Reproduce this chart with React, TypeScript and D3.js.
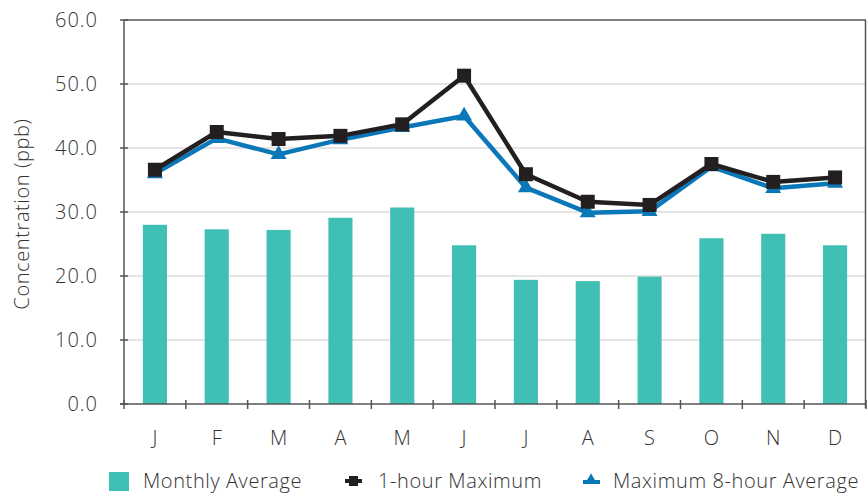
import React from 'react';
import * as d3 from 'd3';

const months = ['J', 'F', 'M', 'A', 'M', 'J', 'J', 'A', 'S', 'O', 'N', 'D'];
const monthlyAverage = [28.0, 27.3, 27.2, 29.1, 30.7, 24.8, 19.4, 19.2, 19.9, 25.9, 26.6, 24.8];
const oneHourMax = [36.6, 42.5, 41.4, 41.9, 43.7, 51.3, 35.9, 31.6, 31.1, 37.5, 34.7, 35.4];
const eightHourMax = [36.0, 41.5, 39.0, 41.3, 43.2, 45.0, 33.8, 29.9, 30.1, 37.1, 33.7, 34.5];
const yTicks = [0, 10, 20, 30, 40, 50, 60];

const W = 867;
const H = 493;
const margin = { left: 124, right: 1, top: 20, bottom: 89 };
const FONT = "'Open Sans', sans-serif";
const TEAL = '#40bfb4';
const BLACK = '#231f20';
const BLUE = '#0a78b8';
const AXIS = '#555';

export default function App() {
  const idx = months.map((_, i) => i);
  const x = d3
    .scaleBand<number>()
    .domain(idx)
    .range([margin.left, W - margin.right])
    .paddingInner(0.61)
    .paddingOuter(0.305);
  const xb = d3.scaleBand<number>().domain(idx).range([margin.left, W - margin.right]);
  const y = d3.scaleLinear().domain([0, 60]).range([H - margin.bottom, margin.top]);
  const cx = (i: number) => xb(i)! + xb.bandwidth() / 2;

  const line = d3
    .line<number>()
    .x((_, i) => cx(i))
    .y(d => y(d));

  const tri = d3.symbol().type(d3.symbolTriangle).size(110)();

  const y0 = y(0);
  const right = W - margin.right;
  const boundaries = idx.map(i => xb(i)!).concat([right]);

  return (
    <svg
      width={W}
      height={H}
      style={{ position: 'absolute', left: 0, top: 0, background: '#fff' }}
      fontFamily={FONT}
    >
      {/* grid */}
      {yTicks.slice(1, -1).map(t => (
        <line key={t} x1={margin.left} x2={right} y1={y(t)} y2={y(t)} stroke="#cccccc" strokeWidth={1.2} />
      ))}

      {/* bars */}
      {monthlyAverage.map((v, i) => (
        <rect key={i} x={x(i)} y={y(v)} width={x.bandwidth()} height={y0 - y(v)} fill={TEAL} />
      ))}

      {/* frame + axes */}
      <line x1={margin.left} x2={right} y1={margin.top} y2={margin.top} stroke={AXIS} strokeWidth={1.5} />
      <line x1={right - 0.5} x2={right - 0.5} y1={margin.top} y2={y0 + 4} stroke={AXIS} strokeWidth={1.5} />
      <line x1={margin.left} x2={margin.left} y1={margin.top} y2={y0} stroke={AXIS} strokeWidth={1.5} />
      <line x1={margin.left - 4} x2={right} y1={y0} y2={y0} stroke={AXIS} strokeWidth={1.5} />
      {yTicks.map(t => (
        <g key={t}>
          <line x1={margin.left - 4} x2={margin.left + 4} y1={y(t)} y2={y(t)} stroke={AXIS} strokeWidth={1.5} />
          <text
            x={margin.left - 26}
            y={y(t)}
            dy="0.35em"
            textAnchor="end"
            fontSize={20}
            letterSpacing={1}
            fontWeight={300}
            fill="#333"
          >
            {t.toFixed(1)}
          </text>
        </g>
      ))}
      {boundaries.map((b, i) => (
        <line key={i} x1={b} x2={b} y1={y0 - 4} y2={y0 + 5} stroke={AXIS} strokeWidth={1.5} />
      ))}
      {months.map((m, i) => (
        <text key={i} x={cx(i)} y={y0 + 41} textAnchor="middle" fontSize={20} fontWeight={300} fill="#333">
          {m}
        </text>
      ))}
      <text
        transform={`translate(29,${(margin.top + y0) / 2 + 2}) rotate(-90)`}
        textAnchor="middle"
        fontSize={20}
        letterSpacing={0.6}
        fontWeight={300}
        fill="#333"
      >
        Concentration (ppb)
      </text>

      {/* 8-hour line */}
      <path d={line(eightHourMax)!} fill="none" stroke={BLUE} strokeWidth={4.5} strokeLinejoin="round" />
      {eightHourMax.map((v, i) => (
        <path key={i} d={tri!} transform={`translate(${cx(i)},${y(v)})`} fill={BLUE} />
      ))}

      {/* 1-hour line */}
      <path d={line(oneHourMax)!} fill="none" stroke={BLACK} strokeWidth={4.5} strokeLinejoin="round" />
      {oneHourMax.map((v, i) => (
        <rect key={i} x={cx(i) - 7} y={y(v) - 7} width={14} height={14} fill={BLACK} />
      ))}

      {/* legend */}
      <g fontSize={20} fontWeight={300} fill="#333" letterSpacing={0.6}>
        <rect x={109} y={472} width={20} height={19} fill={TEAL} />
        <text x={143} y={481} dy="0.35em">Monthly Average</text>
        <line x1={345} x2={362} y1={481} y2={481} stroke={BLACK} strokeWidth={4} />
        <rect x={349} y={476} width={9} height={10} fill={BLACK} />
        <text x={378} y={481} dy="0.35em">1-hour Maximum</text>
        <line x1={583} x2={600} y1={482} y2={482} stroke={BLUE} strokeWidth={4} />
        <path d={d3.symbol().type(d3.symbolTriangle).size(60)()!} transform="translate(591,480)" fill={BLUE} />
        <text x={613} y={481} dy="0.35em">Maximum 8-hour Average</text>
      </g>
    </svg>
  );
}
